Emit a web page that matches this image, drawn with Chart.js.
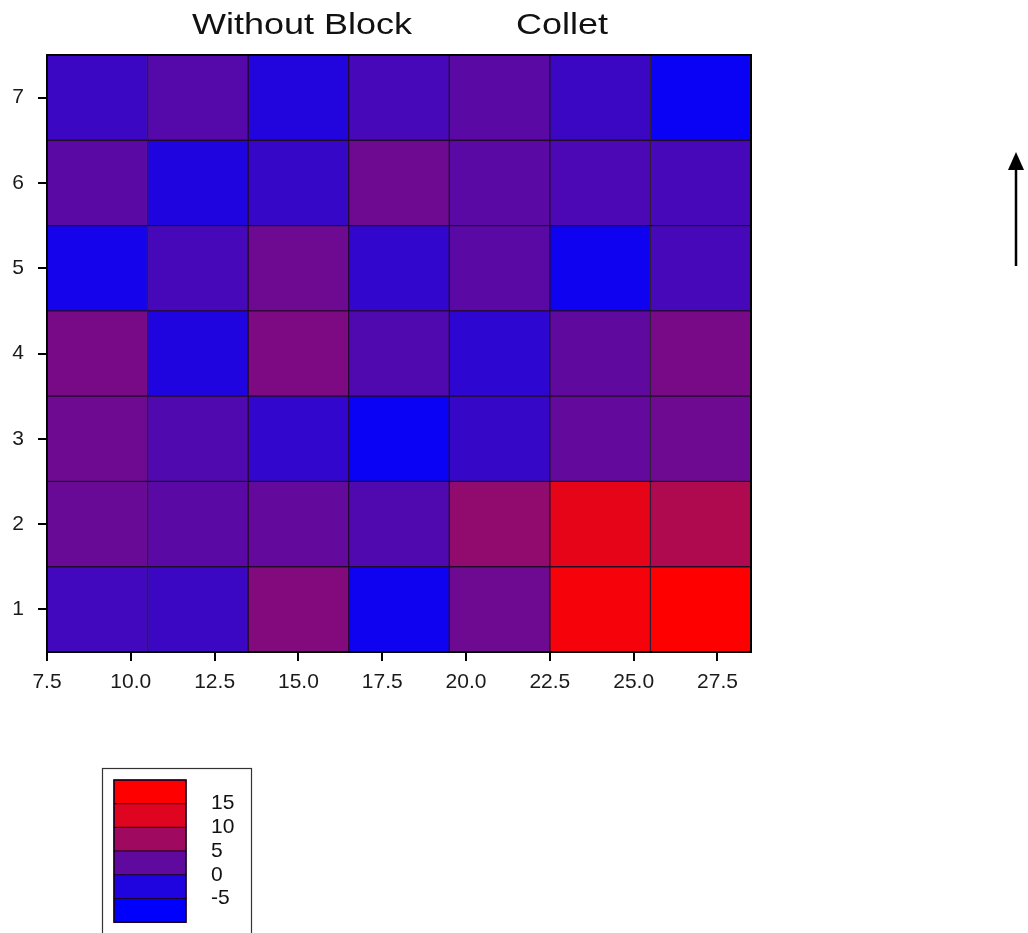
<!DOCTYPE html>
<html>
<head>
<meta charset="utf-8">
<script src="https://cdn.jsdelivr.net/npm/chart.js@4/dist/chart.umd.min.js"></script>
<style>
  html, body { margin: 0; padding: 0; background: #fff; }
  #wrap { position: relative; width: 1028px; height: 933px; overflow: hidden; }
  #chart { position: absolute; left: 0; top: 0; }
  .ttl { position: absolute; top: 9px; font: 30px "Liberation Sans", Arial, sans-serif; line-height: 30px;
         color: #111; transform: scaleX(1.2); transform-origin: left top; white-space: nowrap; }
  svg { position: absolute; left: 0; top: 0; }
</style>
</head>
<body>
<div id="wrap">
  <canvas id="chart" width="1028" height="933"></canvas>
  <div class="ttl" style="left:192px">Without Block</div>
  <div class="ttl" style="left:516px">Collet</div>
  <svg width="1028" height="933">
    <line x1="1016" y1="266" x2="1016" y2="166" stroke="#000" stroke-width="2.5"/>
    <polygon points="1016,152 1008,170 1024,170" fill="#000"/>
  </svg>
</div>
<script>
// Bin centres along x (each bin is 3 units wide) and the row positions
const columns = [9, 12, 15, 18, 21, 24, 27];
const binWidth = 3;
const rows = ['1', '2', '3', '4', '5', '6', '7'];
const xTicks = [7.5, 10, 12.5, 15, 17.5, 20, 22.5, 25, 27.5];

// Cell values, one array per row (row 1 at the bottom)
const row1 = [0.1, -0.3, 5.2, -3.8, 3.6, 14.2, 15.5];
const row2 = [3.2, 2.1, 2.8, 1.3, 6.4, 13.0, 8.7];
const row3 = [3.6, 1.3, -1.1, -4.2, -0.7, 2.8, 3.6];
const row4 = [4.4, -2.6, 4.8, 1.3, -1.5, 2.5, 4.4];
const row5 = [-3.4, 0.5, 3.6, -1.1, 2.1, -3.8, 0.5];
const row6 = [2.1, -2.6, -0.7, 3.6, 2.1, 0.9, 0.5];
const row7 = [-0.3, 1.7, -2.3, 0.5, 2.1, -0.3, -4.2];
const grid = [row1, row2, row3, row4, row5, row6, row7];

// Colour scale levels shown in the key, and the values used for each key band
const legendLevels = [15, 10, 5, 0, -5];
const legendBands = [17.5, 12.5, 7.5, 2.5, -2.5, -7.5];
const colorMin = -5, colorMax = 15;

function colorFor(v) {
  let t = (v - colorMin) / (colorMax - colorMin);
  t = Math.max(0, Math.min(1, t));
  const r = Math.round(255 * t);
  const g = Math.round(40 * t * (1 - t));
  const b = Math.round(255 * (1 - t));
  return `rgb(${r},${g},${b})`;
}

// Rows from top to bottom for the category axis
const rowOrder = rows.map((_, i) => rows.length - 1 - i);

const datasets = columns.map((cx, j) => ({
  label: String(cx),
  data: rowOrder.map(() => [cx - binWidth / 2, cx + binWidth / 2]),
  backgroundColor: rowOrder.map(ri => colorFor(grid[ri][j])),
  borderColor: 'rgba(25,0,35,0.95)',
  borderWidth: 1,
  borderSkipped: false,
  grouped: false,
  barPercentage: 1,
  categoryPercentage: 1
}));

const framePlugin = {
  id: 'frame',
  afterDatasetsDraw(chart) {
    const { ctx, chartArea: a } = chart;
    ctx.save();
    ctx.strokeStyle = '#000';
    ctx.lineWidth = 2;
    ctx.strokeRect(a.left, a.top, a.right - a.left, a.bottom - a.top);
    ctx.restore();
  }
};

const keyPlugin = {
  id: 'colorKey',
  afterDraw(chart) {
    const ctx = chart.ctx;
    ctx.save();
    // outer box
    ctx.strokeStyle = '#333';
    ctx.lineWidth = 1.2;
    ctx.strokeRect(102.5, 768.5, 149, 170);
    // colour bands
    const x0 = 114, w = 72, y0 = 780, h = 23.7;
    legendBands.forEach((v, i) => {
      ctx.fillStyle = colorFor(v);
      ctx.fillRect(x0, y0 + i * h, w, h);
      ctx.strokeStyle = 'rgba(30,0,30,0.9)';
      ctx.lineWidth = 1;
      ctx.strokeRect(x0, y0 + i * h, w, h);
    });
    ctx.strokeStyle = '#1a0020';
    ctx.lineWidth = 1.5;
    ctx.strokeRect(x0, y0, w, h * legendBands.length);
    // level labels
    ctx.fillStyle = '#111';
    ctx.font = '21px "Liberation Sans", Arial, sans-serif';
    ctx.textBaseline = 'middle';
    ctx.textAlign = 'left';
    legendLevels.forEach((lv, i) => {
      ctx.fillText(String(lv), 211, y0 + (i + 1) * h);
    });
    ctx.restore();
  }
};

new Chart(document.getElementById('chart'), {
  type: 'bar',
  data: { labels: rowOrder.map(i => rows[i]), datasets },
  options: {
    indexAxis: 'y',
    responsive: false,
    animation: false,
    layout: { padding: { top: 55, right: 277, bottom: 231, left: 0 } },
    plugins: { legend: { display: false }, tooltip: { enabled: false } },
    scales: {
      x: {
        type: 'linear',
        min: 7.5,
        max: 28.5,
        afterBuildTicks: s => { s.ticks = xTicks.map(v => ({ value: v })); },
        afterFit: s => { s.height = 50; },
        ticks: {
          callback: v => Number(v).toFixed(1),
          color: '#1a1a1a',
          font: { family: '"Liberation Sans", Arial, sans-serif', size: 21 },
          padding: 9,
          maxRotation: 0,
          autoSkip: false
        },
        grid: { drawOnChartArea: false, drawTicks: true, tickLength: 9, color: '#000', lineWidth: 2 },
        border: { display: true, color: '#000', width: 2 }
      },
      y: {
        type: 'category',
        offset: true,
        afterFit: s => { s.width = 47; },
        ticks: {
          color: '#1a1a1a',
          font: { family: '"Liberation Sans", Arial, sans-serif', size: 21 },
          padding: 14
        },
        grid: { offset: false, drawOnChartArea: false, drawTicks: true, tickLength: 9, color: '#000', lineWidth: 2 },
        border: { display: true, color: '#000', width: 2 }
      }
    }
  },
  plugins: [framePlugin, keyPlugin]
});
</script>
</body>
</html>
